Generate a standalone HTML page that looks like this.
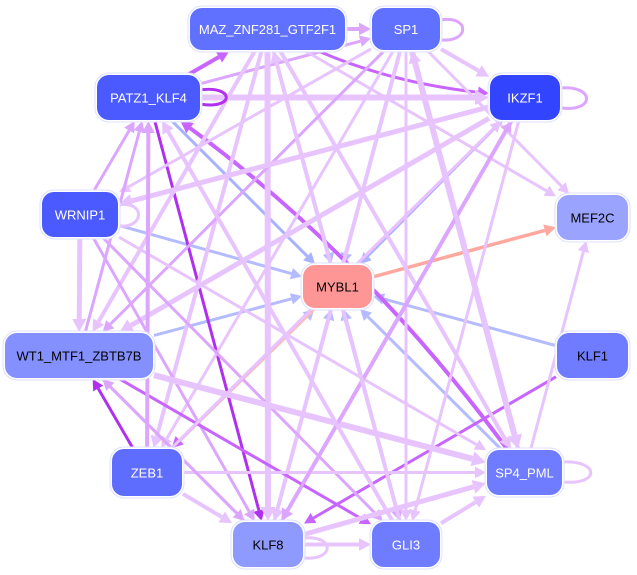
<!DOCTYPE html>
<html><head><meta charset="utf-8">
<style>
html,body{margin:0;padding:0;background:#fff;}
svg{display:block;}
text{font-family:"Liberation Sans",sans-serif;font-size:13px;}
</style></head>
<body>
<svg id="s" width="637" height="575" viewBox="0 0 637 575" xmlns="http://www.w3.org/2000/svg">
<g id="edges"></g>
<g id="nodes"></g>
</svg>
<script>
var N={
MAZ:[190,8,155,42,'#6070ff','#fff','MAZ_ZNF281_GTF2F1'],
SP1:[372,8,68,42,'#6070ff','#fff','SP1'],
PATZ1:[97,75,103,45,'#4a5aff','#fff','PATZ1_KLF4'],
IKZF1:[490,75,70,45,'#3344ff','#fff','IKZF1'],
WRNIP1:[42,192,76,45,'#4a5aff','#fff','WRNIP1'],
MEF2C:[557,195,71,45,'#9aa4ff','#000','MEF2C'],
MYBL1:[303,265,69,43,'#ff9696','#000','MYBL1'],
WT1:[5,333,148,45,'#8590ff','#000','WT1_MTF1_ZBTB7B'],
KLF1:[557,333,71,45,'#6f7cff','#000','KLF1'],
ZEB1:[112,449,70,47,'#5f6dff','#fff','ZEB1'],
SP4:[487,450,75,45,'#6f7cff','#fff','SP4_PML'],
KLF8:[233,522,70,45,'#8f9aff','#000','KLF8'],
GLI3:[372,522,68,45,'#6f7cff','#fff','GLI3']
};
var L='#e8c4ff',M='#dca6ff',D='#c864ff',DD='#b030f0',B='#b4bcff',S='#ffa8a0';
var E=[
['MAZ','MYBL1',B,3],['SP1','MYBL1',B,3],['PATZ1','MYBL1','#a8b2ff',3],['IKZF1','MYBL1','#a8b2ff',3],
['WRNIP1','MYBL1',B,3],['WT1','MYBL1',B,3],['KLF1','MYBL1',B,3],['SP4','MYBL1',B,3],['GLI3','MYBL1',B,3],['KLF8','MYBL1',B,3],['ZEB1','MYBL1',B,3],
['MYBL1','MEF2C',S,3.5],['MYBL1','ZEB1','#ffc0b0',3],
['PATZ1','KLF8',DD,3],['ZEB1','WT1',DD,3],['KLF1','KLF8',D,3],['PATZ1','MAZ',D,4],
['MAZ','IKZF1',D,3,20],['PATZ1','IKZF1',L,6],['PATZ1','SP1',M,3],['SP4','PATZ1',D,4,40],
['MAZ','KLF8',L,6],['MAZ','GLI3',M,3],['MAZ','SP4',L,4],['MAZ','WT1',L,4],['MAZ','ZEB1',L,4],['MAZ','MEF2C',L,3],['MAZ','SP1',M,4],
['SP1','KLF8',L,4],['SP1','GLI3',L,3],['SP1','SP4',L,6],['SP1','WT1',M,3],['SP1','WRNIP1',L,3],['SP1','IKZF1',L,4],['SP1','ZEB1',L,3],['SP1','MEF2C',L,3],
['IKZF1','WT1',L,5],['IKZF1','WRNIP1',L,5],['IKZF1','ZEB1',D,3],['IKZF1','KLF8',M,4],['IKZF1','GLI3',L,3],
['WRNIP1','PATZ1',M,3],['WRNIP1','WT1',L,5],['WRNIP1','GLI3',M,3],['WRNIP1','KLF8',M,3],['WRNIP1','SP4',L,3],
['WT1','SP4',L,6],['WT1','KLF8',M,3],['WT1','GLI3',D,3],['WT1','PATZ1',M,3],
['ZEB1','KLF8',L,4],['ZEB1','PATZ1',M,4],['ZEB1','SP4',L,3],['ZEB1','IKZF1',L,3],
['KLF8','GLI3',L,4],['KLF8','SP4',L,5],['KLF8','IKZF1',M,3],['KLF8','WT1',M,3],
['GLI3','SP4',L,4],['GLI3','PATZ1',L,4],['SP4','MEF2C',L,3],['SP4','SP1',L,4],['GLI3','MAZ',L,4]
];
function c(k){var n=N[k];return [n[0]+n[2]/2,n[1]+n[3]/2];}
function clip(k,x,y,dx,dy){var n=N[k],hw=n[2]/2+1,hh=n[3]/2+1;var t=Math.min(Math.abs(hw/(dx||1e-9)),Math.abs(hh/(dy||1e-9)));return [x+dx*t,y+dy*t];}
var g=document.getElementById('edges'),h='',ns='';
E.forEach(function(e){var a=c(e[0]),b=c(e[1]);var off=e[4]||0;
var dx0=b[0]-a[0],dy0=b[1]-a[1],l0=Math.hypot(dx0,dy0);
var cx=(a[0]+b[0])/2-dy0/l0*off,cy=(a[1]+b[1])/2+dx0/l0*off;
var p=clip(e[0],a[0],a[1],cx-a[0],cy-a[1]),q=clip(e[1],b[0],b[1],cx-b[0],cy-b[1]);
var ux=q[0]-cx,uy=q[1]-cy,len=Math.hypot(ux,uy);ux/=len;uy/=len;
var al=8+e[3],aw=4+e[3]*0.6;var bx=q[0]-ux*al,by=q[1]-uy*al;
if(off){h+='<path d="M'+p[0]+','+p[1]+' Q'+cx+','+cy+' '+bx+','+by+'" fill="none" stroke="'+e[2]+'" stroke-width="'+e[3]+'"/>';}
else h+='<line x1="'+p[0]+'" y1="'+p[1]+'" x2="'+bx+'" y2="'+by+'" stroke="'+e[2]+'" stroke-width="'+e[3]+'"/>';
h+='<polygon points="'+q[0]+','+q[1]+' '+(bx-uy*aw)+','+(by+ux*aw)+' '+(bx+uy*aw)+','+(by-ux*aw)+'" fill="'+e[2]+'"/>';});
h+='<path d="M200,90 C235,85 235,110 200,104" fill="none" stroke="'+DD+'" stroke-width="3"/>';
h+='<path d="M440,20 C470,15 470,42 442,40" fill="none" stroke="'+M+'" stroke-width="3"/>';
h+='<path d="M560,88 C595,85 595,112 562,108" fill="none" stroke="'+M+'" stroke-width="3"/>';
h+='<path d="M118,205 C145,200 145,228 120,226" fill="none" stroke="'+L+'" stroke-width="3"/>';
h+='<path d="M562,462 C600,460 600,485 564,482" fill="none" stroke="'+L+'" stroke-width="3"/>';
h+='<path d="M303,538 C335,535 335,560 305,558" fill="none" stroke="'+L+'" stroke-width="3"/>';
g.innerHTML=h;
for(var k in N){var n=N[k];
ns+='<rect x="'+(n[0]-2)+'" y="'+(n[1]-2)+'" width="'+(n[2]+4)+'" height="'+(n[3]+4)+'" rx="14" fill="#fff" stroke="#dde0ff"/>';
ns+='<rect x="'+n[0]+'" y="'+n[1]+'" width="'+n[2]+'" height="'+n[3]+'" rx="12" fill="'+n[4]+'"/>';
ns+='<text x="'+(n[0]+n[2]/2)+'" y="'+(n[1]+n[3]/2+5)+'" text-anchor="middle" fill="'+n[5]+'">'+n[6]+'</text>';}
document.getElementById('nodes').innerHTML=ns;
</script>
</body></html>
